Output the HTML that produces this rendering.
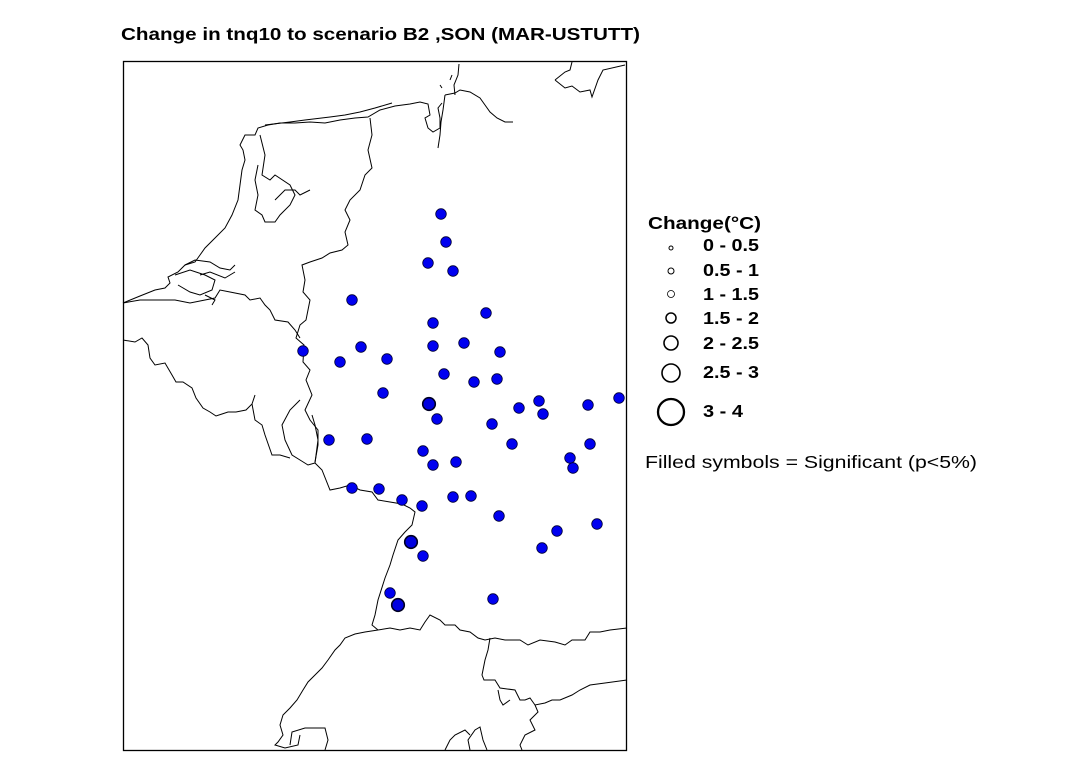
<!DOCTYPE html>
<html><head><meta charset="utf-8"><style>
html,body{margin:0;padding:0;background:#fff;}
svg{display:block;}
text{font-family:"Liberation Sans",Arial,sans-serif;}
</style></head><body>
<svg width="1084" height="761" viewBox="0 0 1084 761" xmlns="http://www.w3.org/2000/svg">
<rect width="1084" height="761" fill="#fff"/>
<text x="121" y="40" font-size="17.5" font-weight="bold" fill="#000" textLength="519" lengthAdjust="spacingAndGlyphs">Change in tnq10 to scenario B2 ,SON (MAR-USTUTT)</text>
<rect x="123.5" y="61.5" width="503" height="689" fill="none" stroke="#000" stroke-width="1.3"/>
<g fill="none" stroke="#000" stroke-width="1">
<path d="M123,303 L140,296 L155,290 L165,288 L170,283 L168,277 L178,272 L185,265 L195,262 L200,255 L205,248 L215,238 L225,228 L232,215 L238,200 L240,185 L242,170 L245,160 L243,150 L240,145 L245,135 L255,135 L258,128 L268,125 L280,123 L295,123 L310,122 L325,123 L340,120 L355,118 L368,117 L380,110 L395,106 L410,104 L420,102 L428,104 L430,115 L425,118 L428,128 L433,132 L440,128 L440,118 L438,108 L442,103"/>
<path d="M265,125 L290,122 L305,120 L330,117 L345,115 L360,112 L375,108 L392,103"/>
<path d="M260,135 L265,155 L262,175 L270,180 L275,175 L290,185 L295,195 L290,205 L280,215 L275,222 L265,222 L262,215 L255,210 L258,195 L255,180 L258,165"/>
<path d="M275,200 L285,190 L295,190 L300,195 L310,190"/>
<path d="M185,265 L195,260 L210,262 L220,268 L230,270 L235,265 M175,275 L190,270 L205,275 L215,280 L212,290 L200,295 L190,292 L178,285 M200,275 L210,272 L225,278 L235,272 M205,295 L215,300 L212,305"/>
<path d="M445,95 L455,93 L460,90 L470,92 L480,98 L485,105 L490,112 L497,118 L505,122 L513,122"/>
<path d="M455,95 L454,85 L458,75 L459,64 M450,80 L452,75 M440,85 L442,88"/>
<path d="M445,95 L443,110 L441,122 L440,135 L438,148"/>
<path d="M555,80 L565,72 L570,70 L572,62 M555,80 L565,88 L572,86 L580,92 L590,90 L592,97 L598,80 L603,70 L625,65"/>
<path d="M370,118 L372,135 L368,150 L372,168 L365,175 L360,190 L350,200 L345,210 L350,220 L345,232 L348,245 L342,250 L330,253 L322,258 L310,262 L302,265 L305,280 L303,292 L310,300 L306,320 L300,325 L296,338 L304,345 L303,362 L310,370 L306,380 L312,395 L305,410 L310,420 L318,430 L318,445 L315,462"/>
<path d="M123,303 L140,300 L160,300 L175,300 L190,303 L205,300 L215,298 L220,290 L230,292 L245,295 L250,300 L260,298 L265,305 L270,310 L275,320 L288,322 L295,330 L300,338"/>
<path d="M123,340 L135,342 L142,338 L148,345 L150,358 L155,365 L165,363 L172,375 L176,382 L183,382 L192,388 L196,398 L203,408 L210,412 L216,416 L222,414 L228,412 L236,412 L246,410 L252,404 L255,395"/>
<path d="M300,400 L290,410 L282,425 L285,440 L292,455 L300,460 L308,465 L315,463 L318,440 L315,425 L312,415"/>
<path d="M252,404 L255,420 L262,425 L265,435 L272,455 L280,455 L290,458"/>
<path d="M315,463 L322,470 L330,490 L340,488 L350,485 L360,490 L372,492 L378,500 L390,502 L402,504 L410,508 L415,512 L412,525 L405,532 L398,540 L393,555 L390,565 L385,578 L378,600 L375,615 L372,625 L378,630"/>
<path d="M378,630 L390,628 L400,630 L410,628 L420,630 L425,622 L430,615 L440,620 L445,625 L455,625 L460,630 L470,632 L478,638 L485,640 L495,638 L505,640 L512,640 L520,640 L528,645 L540,640 L555,642 L565,645 L572,640 L585,640 L590,632 L600,632 L610,630 L627,628"/>
<path d="M378,630 L365,632 L355,634 L345,638 L340,645 L335,650 L328,660 L322,668 L315,675 L308,682 L303,690 L297,700 L290,708 L283,715 L280,725 L283,735 L278,742 L275,745 L285,748 L298,745 L300,735"/>
<path d="M290,745 L292,732 L305,728 L325,728 L328,740 L325,750"/>
<path d="M490,638 L488,650 L485,660 L482,675 L484,680 L495,680 L500,688 L515,690 L520,700 L525,700 L530,698 L535,705 L545,703 L552,700 L560,700 L572,695 L580,690 L590,685 L605,683 L627,680"/>
<path d="M535,705 L538,712 L530,720 L535,730 L525,735 L520,745 L522,750"/>
<path d="M470,750 L468,740 L475,730 L480,727 L483,740 L487,750 M445,750 L450,740 L455,735 L465,730 L470,735"/>
<path d="M498,690 L500,700 L503,705 L510,700"/>
</g>
<g fill="#0000f0" stroke="#000033" stroke-width="0.8">
<circle cx="441" cy="214" r="5.3"/><circle cx="446" cy="242" r="5.3"/><circle cx="428" cy="263" r="5.3"/><circle cx="453" cy="271" r="5.3"/>
<circle cx="352" cy="300" r="5.3"/><circle cx="486" cy="313" r="5.3"/><circle cx="433" cy="323" r="5.3"/><circle cx="433" cy="346" r="5.3"/>
<circle cx="464" cy="343" r="5.3"/><circle cx="500" cy="352" r="5.3"/><circle cx="303" cy="351" r="5.3"/><circle cx="361" cy="347" r="5.3"/>
<circle cx="340" cy="362" r="5.3"/><circle cx="387" cy="359" r="5.3"/><circle cx="444" cy="374" r="5.3"/><circle cx="474" cy="382" r="5.3"/>
<circle cx="497" cy="379" r="5.3"/><circle cx="383" cy="393" r="5.3"/><circle cx="437" cy="419" r="5.3"/>
<circle cx="519" cy="408" r="5.3"/><circle cx="539" cy="401" r="5.3"/><circle cx="543" cy="414" r="5.3"/><circle cx="588" cy="405" r="5.3"/>
<circle cx="619" cy="398" r="5.3"/><circle cx="492" cy="424" r="5.3"/><circle cx="329" cy="440" r="5.3"/><circle cx="367" cy="439" r="5.3"/>
<circle cx="423" cy="451" r="5.3"/><circle cx="512" cy="444" r="5.3"/><circle cx="590" cy="444" r="5.3"/><circle cx="570" cy="458" r="5.3"/>
<circle cx="573" cy="468" r="5.3"/><circle cx="433" cy="465" r="5.3"/><circle cx="456" cy="462" r="5.3"/><circle cx="352" cy="488" r="5.3"/>
<circle cx="379" cy="489" r="5.3"/><circle cx="402" cy="500" r="5.3"/><circle cx="422" cy="506" r="5.3"/><circle cx="453" cy="497" r="5.3"/>
<circle cx="471" cy="496" r="5.3"/><circle cx="499" cy="516" r="5.3"/><circle cx="557" cy="531" r="5.3"/><circle cx="597" cy="524" r="5.3"/>
<circle cx="542" cy="548" r="5.3"/><circle cx="423" cy="556" r="5.3"/><circle cx="390" cy="593" r="5.3"/><circle cx="493" cy="599" r="5.3"/>
</g>
<g fill="#0000e0" stroke="#000022" stroke-width="1.6">
<circle cx="429" cy="404" r="6.3"/><circle cx="411" cy="542" r="6.3"/><circle cx="398" cy="605" r="6.3"/>
</g>
<text x="648" y="229" font-size="17.5" font-weight="bold" textLength="113" lengthAdjust="spacingAndGlyphs">Change(°C)</text>
<g fill="none" stroke="#000">
<circle cx="671" cy="248" r="2" stroke-width="1"/>
<circle cx="671" cy="271" r="3" stroke-width="1"/>
<circle cx="671" cy="294" r="3.5" stroke-width="0.8"/>
<circle cx="671" cy="318" r="5" stroke-width="1.5"/>
<circle cx="671" cy="343" r="7" stroke-width="1.6"/>
<circle cx="671" cy="373" r="9" stroke-width="1.6"/>
<circle cx="671" cy="412" r="13" stroke-width="2.3"/>
</g>
<g font-size="17.5" font-weight="bold">
<text x="703" y="251" textLength="56" lengthAdjust="spacingAndGlyphs">0 - 0.5</text>
<text x="703" y="276" textLength="56" lengthAdjust="spacingAndGlyphs">0.5 - 1</text>
<text x="703" y="300" textLength="56" lengthAdjust="spacingAndGlyphs">1 - 1.5</text>
<text x="703" y="324" textLength="56" lengthAdjust="spacingAndGlyphs">1.5 - 2</text>
<text x="703" y="349" textLength="56" lengthAdjust="spacingAndGlyphs">2 - 2.5</text>
<text x="703" y="378" textLength="56" lengthAdjust="spacingAndGlyphs">2.5 - 3</text>
<text x="703" y="417" textLength="40" lengthAdjust="spacingAndGlyphs">3 - 4</text>
</g>
<text x="645" y="468" font-size="17.5" textLength="332" lengthAdjust="spacingAndGlyphs">Filled symbols = Significant (p&lt;5%)</text>
</svg>
</body></html>
